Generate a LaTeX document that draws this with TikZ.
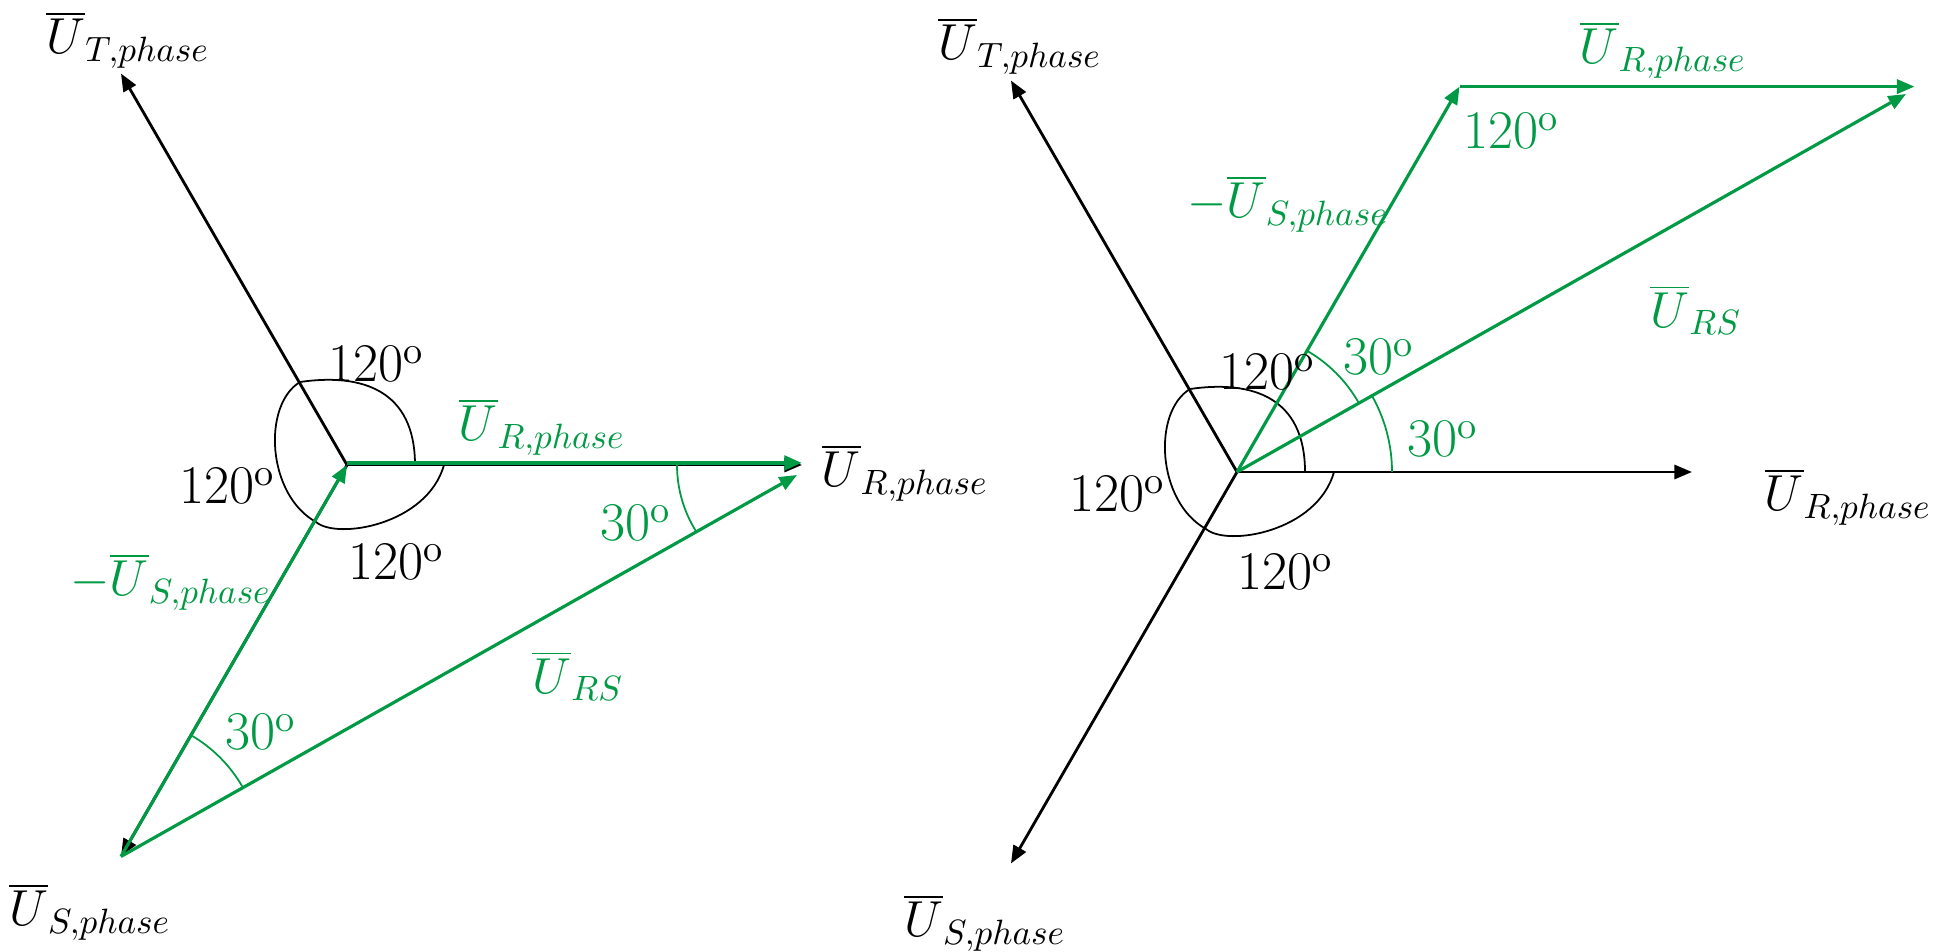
\documentclass[tikz,border=0pt]{standalone}
\usetikzlibrary{arrows.meta,calc}
\definecolor{phasor}{HTML}{009A44}
\definecolor{ink}{HTML}{000000}

\begin{document}
\begin{tikzpicture}[
    x=0.01cm, y=0.01cm,
    >={Triangle[length=5pt,width=4pt]},
    line cap=butt, line join=miter,
    every node/.style={font=\fontsize{14}{17}\selectfont, inner sep=1pt},
    degree/.style={font=\fontsize{15.5}{18}\selectfont},
    phaseaxis/.style={ink, line width=0.8pt, ->},
    gvec/.style={phasor, line width=0.9pt, ->},
    anglesweep/.style={ink, line width=0.5pt},
    garc/.style={phasor, line width=0.5pt},
    glabel/.style={phasor},
]
\useasboundingbox (0,0) rectangle (1937,951);

% --- Left diagram: star of phase voltages ---
\coordinate (O1) at (347,486);
\coordinate (T1) at ($(O1)+(120:452)$);
\coordinate (S1) at ($(O1)+(240:452)$);
\coordinate (R1) at ($(O1)+(0:455)$);
\coordinate (RS1) at (797,476);

\draw[phaseaxis] (O1) -- (T1);
\draw[phaseaxis] (O1) -- (S1);
\draw[phaseaxis] (O1) -- (R1);

% 120 degree sweep round the star point
\begin{scope}[shift={(O1)}]
\draw[anglesweep] (68,0) .. controls (68,75) and (15,92) .. (-47,83)
    .. controls (-85,60) and (-80,-30) .. (-31,-57)
    .. controls (-10,-75) and (80,-60) .. (97,0);
\end{scope}

% green triangle: -U_S + U_R = U_RS
\draw[gvec] (S1) -- (O1);
\draw[gvec, line width=1.2pt, transform canvas={yshift=0.6pt}] (O1) -- (R1);
\draw[gvec] (S1) -- (RS1);

% 30 degree arcs
\draw[garc] ($(S1)+(60:140)$) arc[start angle=60, end angle=30, radius=140];
\draw[garc] ($(R1)+(180:125)$) arc[start angle=180, end angle=212, radius=125];

% labels
\node (lblT1) at (128,911) {$\overline{U}_{T,phase}$};
\node (lblS1) at (90,39) {$\overline{U}_{S,phase}$};
\node (lblR1) at (905,478) {$\overline{U}_{R,phase}$};
\node[degree] (lblTop1) at (376,587) {120\textsuperscript{o}};
\node[degree] (lblLeft1) at (227,465) {120\textsuperscript{o}};
\node[degree] (lblBot1) at (396,389) {120\textsuperscript{o}};
\node[glabel] (lblRg1) at (542,524) {$\overline{U}_{R,phase}$};
\node[glabel] (lblmS1) at (171,369) {$-\overline{U}_{S,phase}$};
\node[glabel] (lblRS1) at (578,275) {$\overline{U}_{RS}$};
\node[glabel, degree] (lbl30R1) at (636,428) {30\textsuperscript{o}};
\node[glabel, degree] (lbl30S1) at (261,219) {30\textsuperscript{o}};

% --- Right diagram: same star, triangle drawn from the star point ---
\coordinate (O2) at (1237,479);
\coordinate (T2) at ($(O2)+(120:452)$);
\coordinate (S2) at ($(O2)+(240:452)$);
\coordinate (R2) at ($(O2)+(0:455)$);
\coordinate (G2) at ($(O2)+(60:445)$);
\coordinate (E2) at ($(G2)+(455,0)$);
\coordinate (RS2) at (1906,857);

\draw[phaseaxis] (O2) -- (T2);
\draw[phaseaxis] (O2) -- (S2);
\draw[phaseaxis] (O2) -- (R2);

\begin{scope}[shift={(O2)}]
\draw[anglesweep] (68,0) .. controls (68,75) and (15,92) .. (-47,83)
    .. controls (-85,60) and (-80,-30) .. (-31,-57)
    .. controls (-10,-75) and (80,-60) .. (97,0);
\end{scope}

\draw[gvec] (O2) -- (G2);
\draw[gvec] (G2) -- (E2);
\draw[gvec] (O2) -- (RS2);

\draw[garc] ($(O2)+(0:155)$) arc[start angle=0, end angle=30, radius=155];
\draw[garc] ($(O2)+(30:140)$) arc[start angle=30, end angle=60, radius=140];

\node (lblT2) at (1020,905) {$\overline{U}_{T,phase}$};
\node (lblS2) at (985,28) {$\overline{U}_{S,phase}$};
\node (lblR2) at (1848,454) {$\overline{U}_{R,phase}$};
\node[degree] (lblTop2) at (1267,579) {120\textsuperscript{o}};
\node[degree] (lblLeft2) at (1117,457) {120\textsuperscript{o}};
\node[degree] (lblBot2) at (1285,379) {120\textsuperscript{o}};
\node[glabel] (lblRg2) at (1663,901) {$\overline{U}_{R,phase}$};
\node[glabel, degree] (lbl120g2) at (1511,820) {120\textsuperscript{o}};
\node[glabel] (lblmS2) at (1288,747) {$-\overline{U}_{S,phase}$};
\node[glabel] (lblRS2) at (1696,641) {$\overline{U}_{RS}$};
\node[glabel, degree] (lbl30a2) at (1379,594) {30\textsuperscript{o}};
\node[glabel, degree] (lbl30b2) at (1443,512) {30\textsuperscript{o}};

\end{tikzpicture}
\end{document}
